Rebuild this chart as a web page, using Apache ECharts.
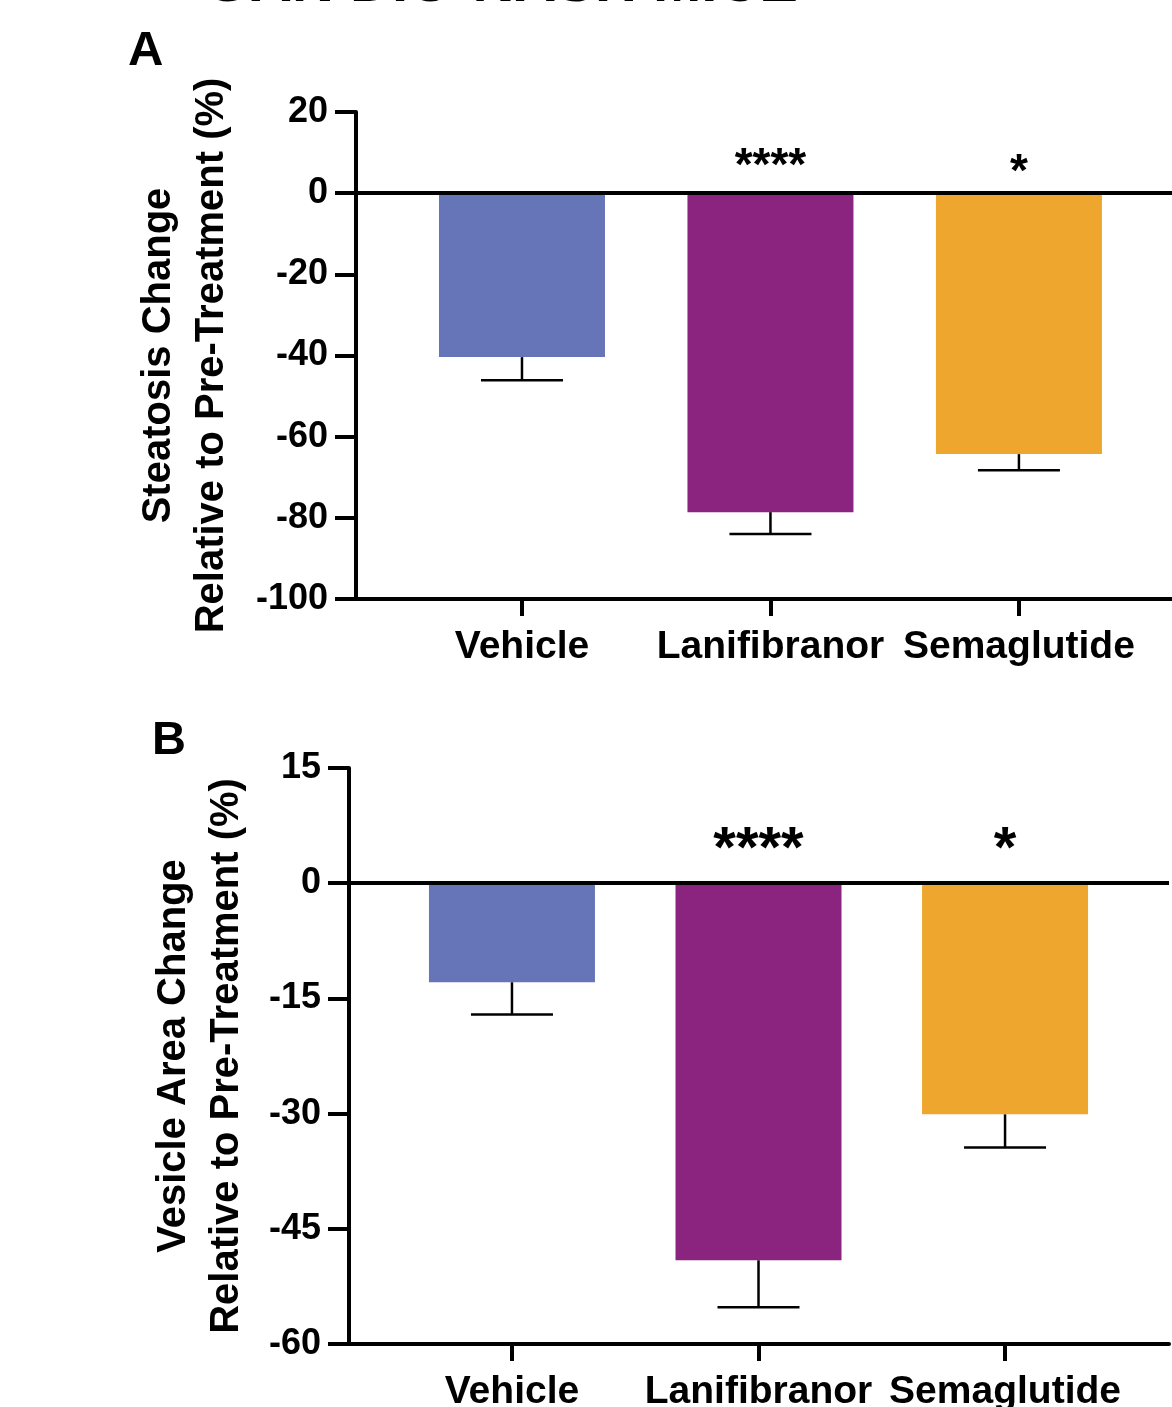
<!DOCTYPE html>
<html>
<head>
<meta charset="utf-8">
<script src="https://cdn.jsdelivr.net/npm/echarts@6/dist/echarts.min.js"></script>
<style>
html,body{margin:0;padding:0;background:#fff;}
#chart{width:1172px;height:1407px;}
</style>
</head>
<body>
<div id="chart"></div>
<script>
// ---- data ----
const categories = ['Vehicle', 'Lanifibranor', 'Semaglutide'];
const barColors = ['#6675B8', '#8B247F', '#EFA62F'];
const steatosisMean = [-40.4, -78.6, -64.3];
const steatosisSem = [5.7, 5.4, 4.0];
const vesicleMean = [-12.9, -49.1, -30.1];
const vesicleSem = [4.2, 6.1, 4.3];
const significance = ['', '****', '*'];
const steatosisAxis = { min: -100, max: 20, interval: 20 };
const vesicleAxis = { min: -60, max: 15, interval: 15 };
const steatosisStarY = [6.3, 6.3, 5.0];
const vesicleStarY = [4.2, 4.2, 4.2];

const FONT = '"Liberation Sans", Arial, Helvetica, sans-serif';
const catIdx = categories.map((c, i) => i);

function xAxisCfg(gridIndex, min, max) {
  return {
    type: 'value', gridIndex, min, max, position: 'bottom',
    axisLine: { show: true, onZero: false, lineStyle: { color: '#000', width: 4 } },
    axisTick: { show: true, customValues: catIdx, length: 17, lineStyle: { color: '#000', width: 4 } },
    axisLabel: {
      customValues: catIdx, formatter: v => categories[Math.round(v)],
      fontSize: 39, fontWeight: 'bold', color: '#000', fontFamily: FONT, margin: 29
    },
    splitLine: { show: false }
  };
}
function yAxisCfg(gridIndex, ax, name, nameGap) {
  return {
    type: 'value', gridIndex, min: ax.min, max: ax.max, interval: ax.interval,
    axisLine: { show: true, onZero: false, lineStyle: { color: '#000', width: 4 } },
    axisTick: { show: true, length: 21, lineStyle: { color: '#000', width: 4 } },
    axisLabel: { fontSize: 36, fontWeight: 'bold', color: '#000', fontFamily: FONT, margin: 28 },
    splitLine: { show: false },
    name, nameLocation: 'middle', nameRotate: 90, nameGap,
    nameTextStyle: { fontSize: 40, fontWeight: 'bold', color: '#000', fontFamily: FONT, lineHeight: 53, align: 'center' }
  };
}
function barSeries(idx, means) {
  return {
    type: 'bar', xAxisIndex: idx, yAxisIndex: idx, barWidth: 166,
    data: means.map((m, i) => ({ value: [i, m], itemStyle: { color: barColors[i] } })),
    markLine: {
      silent: true, symbol: 'none', label: { show: false },
      lineStyle: { color: '#000', width: 4, type: 'solid' },
      data: [{ yAxis: 0 }]
    },
    z: 2
  };
}
function errSeries(idx, means, sems) {
  return {
    type: 'custom', xAxisIndex: idx, yAxisIndex: idx,
    data: means.map((m, i) => [i, m, sems[i]]),
    encode: { x: 0, y: 1 },
    renderItem: (params, api) => {
      const x = api.value(0), m = api.value(1), s = api.value(2);
      const p0 = api.coord([x, m]);
      const p1 = api.coord([x, m - s]);
      return {
        type: 'group', children: [
          { type: 'line', shape: { x1: p0[0], y1: p0[1], x2: p1[0], y2: p1[1] }, style: { stroke: '#000', lineWidth: 2.5 } },
          { type: 'line', shape: { x1: p1[0] - 41, y1: p1[1], x2: p1[0] + 41, y2: p1[1] }, style: { stroke: '#000', lineWidth: 2.5 } }
        ]
      };
    },
    z: 3
  };
}
function starSeries(idx, ys, fontSize) {
  return {
    type: 'custom', xAxisIndex: idx, yAxisIndex: idx,
    data: significance.map((s, i) => [i, ys[i], s]),
    encode: { x: 0, y: 1 },
    renderItem: (params, api) => {
      const p = api.coord([api.value(0), api.value(1)]);
      return {
        type: 'text', x: p[0], y: p[1],
        style: { text: significance[params.dataIndex], fontSize, fontWeight: 'bold', fontFamily: FONT, fill: '#000', align: 'center', verticalAlign: 'middle' }
      };
    },
    z: 4
  };
}

const chart = echarts.init(document.getElementById('chart'), null, { renderer: 'canvas' });
chart.setOption({
  backgroundColor: '#fff',
  animation: false,
  grid: [
    { left: 356, top: 112, width: 816, height: 487, outerBoundsMode: 'none', containLabel: false },
    { left: 349, top: 768, width: 820, height: 576, outerBoundsMode: 'none', containLabel: false }
  ],
  xAxis: [xAxisCfg(0, -0.668, 2.616), xAxisCfg(1, -0.661, 2.665)],
  yAxis: [
    yAxisCfg(0, steatosisAxis, 'Steatosis Change\nRelative to Pre-Treatment (%)', 118),
    yAxisCfg(1, vesicleAxis, 'Vesicle Area Change\nRelative to Pre-Treatment (%)', 96)
  ],
  series: [
    barSeries(0, steatosisMean), errSeries(0, steatosisMean, steatosisSem), starSeries(0, steatosisStarY, 46),
    barSeries(1, vesicleMean), errSeries(1, vesicleMean, vesicleSem), starSeries(1, vesicleStarY, 58)
  ],
  graphic: [
    { type: 'text', x: 205, y: 14, style: { text: 'GAN DIO-NASH MICE', fontSize: 58, fontWeight: 'bold', fontFamily: FONT, fill: '#000', verticalAlign: 'bottom' } },
    { type: 'text', x: 128, y: 51, style: { text: 'A', fontSize: 49, fontWeight: 'bold', fontFamily: FONT, fill: '#000', verticalAlign: 'middle' } },
    { type: 'text', x: 152, y: 741, style: { text: 'B', fontSize: 47, fontWeight: 'bold', fontFamily: FONT, fill: '#000', verticalAlign: 'middle' } }
  ]
});
</script>
</body>
</html>
